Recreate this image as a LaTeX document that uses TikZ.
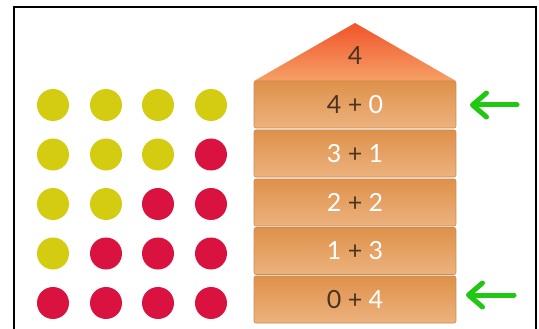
\documentclass[tikz,border=0pt]{standalone}
\usepackage{fontspec}
\setmainfont{Lato}
\usetikzlibrary{arrows.meta}
\definecolor{dotyel}{HTML}{D4CC10}
\definecolor{dotred}{HTML}{D9123F}
\definecolor{boxtop}{HTML}{DE914A}
\definecolor{boxbot}{HTML}{EDB27E}
\definecolor{boxline}{HTML}{C98A55}
\definecolor{rooftop}{HTML}{F0542A}
\definecolor{roofbot}{HTML}{F6A066}
\definecolor{darktxt}{HTML}{4A3322}
\definecolor{arrgreen}{HTML}{20C814}
\tikzset{
  yel/.style={circle,fill=dotyel,minimum size=32pt,inner sep=0pt},
  red/.style={circle,fill=dotred,minimum size=32pt,inner sep=0pt},
  sumbox/.style={rectangle,rounded corners=2pt,minimum width=202pt,minimum height=47pt,
    top color=boxtop,bottom color=boxbot,draw=boxline,line width=0.6pt,inner sep=0pt,
    font=\fontsize{25}{25}\selectfont},
  greenarrow/.style={draw=arrgreen,line width=5pt,line cap=round,line join=round,
    -{Straight Barb[length=14pt,width=24pt,line width=5pt,round]}},
  frame/.style={draw=black,line width=2pt}
}
\newcommand{\wt}[1]{\textcolor{white}{#1}}
\newcommand{\dk}[1]{\textcolor{darktxt}{#1}}
\begin{document}
\begin{tikzpicture}[x=1pt,y=-1pt]
\useasboundingbox (0,0) rectangle (539,329);
\fill[white] (0,0) rectangle (539,329);
% frame
\draw[frame] (13.5,335) -- (13.5,7.5) -- (535.5,7.5) -- (535.5,335);
% dots
\foreach \r/\a/\b/\c/\d in {0/yel/yel/yel/yel,1/yel/yel/yel/red,2/yel/yel/red/red,3/yel/red/red/red,4/red/red/red/red}{
  \node[\a] (d\r-0) at (53,105+49.5*\r) {};
  \node[\b] (d\r-1) at (106,105+49.5*\r) {};
  \node[\c] (d\r-2) at (158,105+49.5*\r) {};
  \node[\d] (d\r-3) at (211,105+49.5*\r) {};
}
% roof
\path[top color=rooftop,bottom color=roofbot] (355,23) -- (456,81) -- (254,81) -- cycle;
\node[font=\fontsize{25}{25}\selectfont,text=darktxt] (roof) at (355,56) {4};
% boxes
\node[sumbox] (b0) at (355,104.5) {\dk{4} \dk{+} \wt{0}};
\node[sumbox] (b1) at (355,153.5) {\wt{3} \dk{+} \wt{1}};
\node[sumbox] (b2) at (355,202.5) {\wt{2} \dk{+} \wt{2}};
\node[sumbox] (b3) at (355,251) {\wt{1} \dk{+} \wt{3}};
\node[sumbox] (b4) at (355,299.5) {\dk{0} \dk{+} \wt{4}};
% arrows
\coordinate (a0s) at (517,105);
\coordinate (a0e) at (470,105);
\coordinate (a4s) at (514,295);
\coordinate (a4e) at (466,295);
\draw[greenarrow] (a0s) -- (a0e);
\draw[greenarrow] (a4s) -- (a4e);
\end{tikzpicture}
\end{document}
